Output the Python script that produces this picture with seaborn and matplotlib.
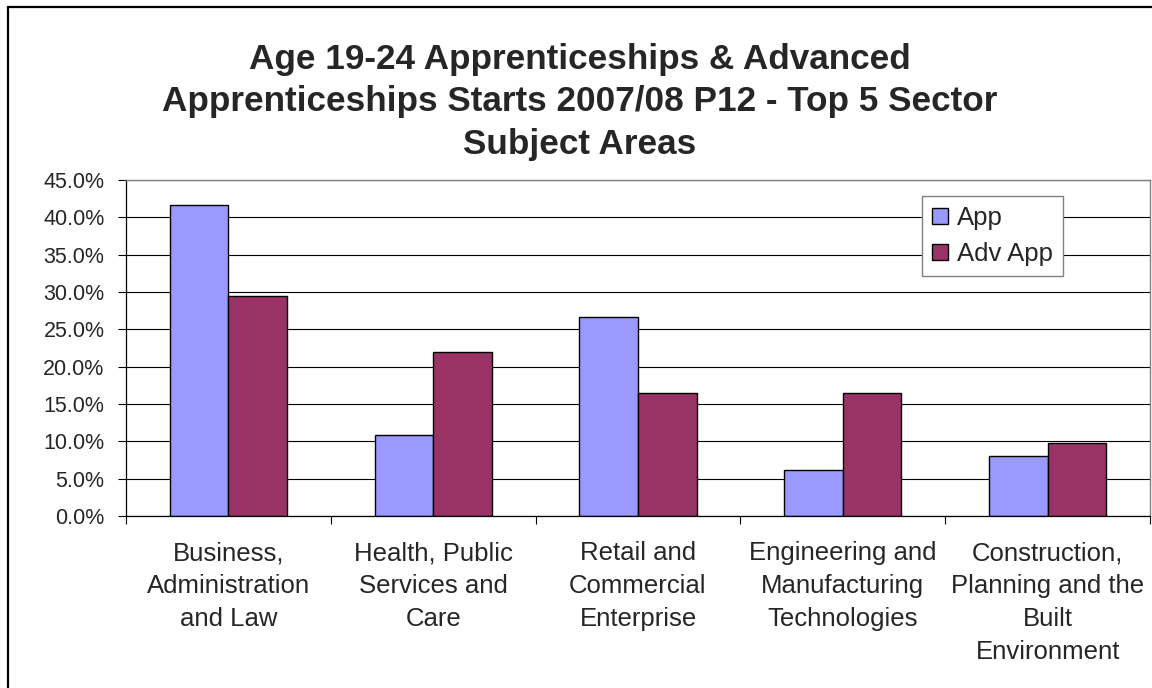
import matplotlib
matplotlib.use("Agg")
import matplotlib.pyplot as plt
from matplotlib.lines import Line2D
from matplotlib.patches import Patch
from matplotlib.ticker import PercentFormatter, FixedLocator
import pandas as pd
import seaborn as sns

# Sector subject areas and their share of starts (%)
categories = [
    "Business, Administration and Law",
    "Health, Public Services and Care",
    "Retail and Commercial Enterprise",
    "Engineering and Manufacturing Technologies",
    "Construction, Planning and the Built Environment",
]
tick_labels = [
    "Business,\nAdministration\nand Law",
    "Health, Public\nServices and\nCare",
    "Retail and\nCommercial\nEnterprise",
    "Engineering and\nManufacturing\nTechnologies",
    "Construction,\nPlanning and the\nBuilt\nEnvironment",
]
series_names = ["App", "Adv App"]
app_values = [41.7, 10.9, 26.6, 6.2, 8.0]
adv_app_values = [29.4, 21.9, 16.5, 16.5, 9.8]
colors = ["#9999FF", "#993366"]
title = ("Age 19-24 Apprenticeships & Advanced\n"
         "Apprenticeships Starts 2007/08 P12 - Top 5 Sector\n"
         "Subject Areas")

df = pd.DataFrame({
    "Sector": categories * 2,
    "Series": [series_names[0]] * len(categories) + [series_names[1]] * len(categories),
    "Share": app_values + adv_app_values,
})

sns.set_style("white")
plt.rcParams["font.family"] = ["Liberation Sans", "DejaVu Sans"]

W, H = 1152, 688
fig = plt.figure(figsize=(W / 100, H / 100), dpi=100)
ax = fig.add_axes([126 / W, 1 - 516 / H, 1024 / W, 336 / H])

sns.barplot(
    data=df, x="Sector", y="Share", hue="Series", order=categories,
    hue_order=series_names, palette=colors, width=0.572,
    edgecolor="black", linewidth=1.0, saturation=1, legend=False, ax=ax,
)

ax.set_ylim(0, 45)
ax.set_xlim(-0.5, len(categories) - 0.5)
ax.yaxis.set_major_locator(FixedLocator([i * 5 for i in range(10)]))
ax.yaxis.set_major_formatter(PercentFormatter(xmax=100, decimals=1))
ax.set_xlabel("")
ax.set_ylabel("")

# horizontal gridlines
ax.yaxis.grid(True, color="black", linewidth=0.8)
ax.xaxis.grid(False)
ax.set_axisbelow(True)

# category labels centred, tick marks on the category boundaries
ax.set_xticks(range(len(categories)))
ax.set_xticklabels(tick_labels, fontsize=18.5, linespacing=1.47, ha="center")
ax.set_xticks([i - 0.5 for i in range(len(categories) + 1)], minor=True)
ax.tick_params(axis="x", which="major", length=0, pad=18)
ax.tick_params(axis="x", which="minor", length=5.5, width=0.8, color="black",
               direction="out", bottom=True)
ax.tick_params(axis="y", which="major", length=5.5, width=0.8, color="black",
               direction="out", left=True, labelsize=15.5, pad=10)

for side in ["left", "bottom"]:
    ax.spines[side].set_color("black")
    ax.spines[side].set_linewidth(0.9)
for side in ["top", "right"]:
    ax.spines[side].set_visible(True)
    ax.spines[side].set_color("#808080")
    ax.spines[side].set_linewidth(1.0)

handles = [Patch(facecolor=c, edgecolor="black", linewidth=1.0) for c in colors]
leg = ax.legend(
    handles, series_names, loc="upper left",
    bbox_to_anchor=(922 / W, 1 - 196 / H), bbox_transform=fig.transFigure,
    borderaxespad=0, fontsize=18.5, handlelength=0.6, handleheight=0.6,
    handletextpad=0.35, labelspacing=0.45, borderpad=0.4, fancybox=False,
    frameon=True, framealpha=1, edgecolor="#808080",
)
leg.get_frame().set_linewidth(1.0)

fig.text(580 / W, 1 - 102 / H, title, ha="center", va="center",
         fontsize=25.3, fontweight="bold", linespacing=1.36)

# chart border (left and top edges)
fig.add_artist(Line2D([8 / W, 8 / W], [0, 1 - 7 / H], transform=fig.transFigure,
                      color="black", linewidth=1.6))
fig.add_artist(Line2D([8 / W, 1], [1 - 7 / H, 1 - 7 / H], transform=fig.transFigure,
                      color="black", linewidth=1.6))

fig.savefig("out.png", dpi=100)
